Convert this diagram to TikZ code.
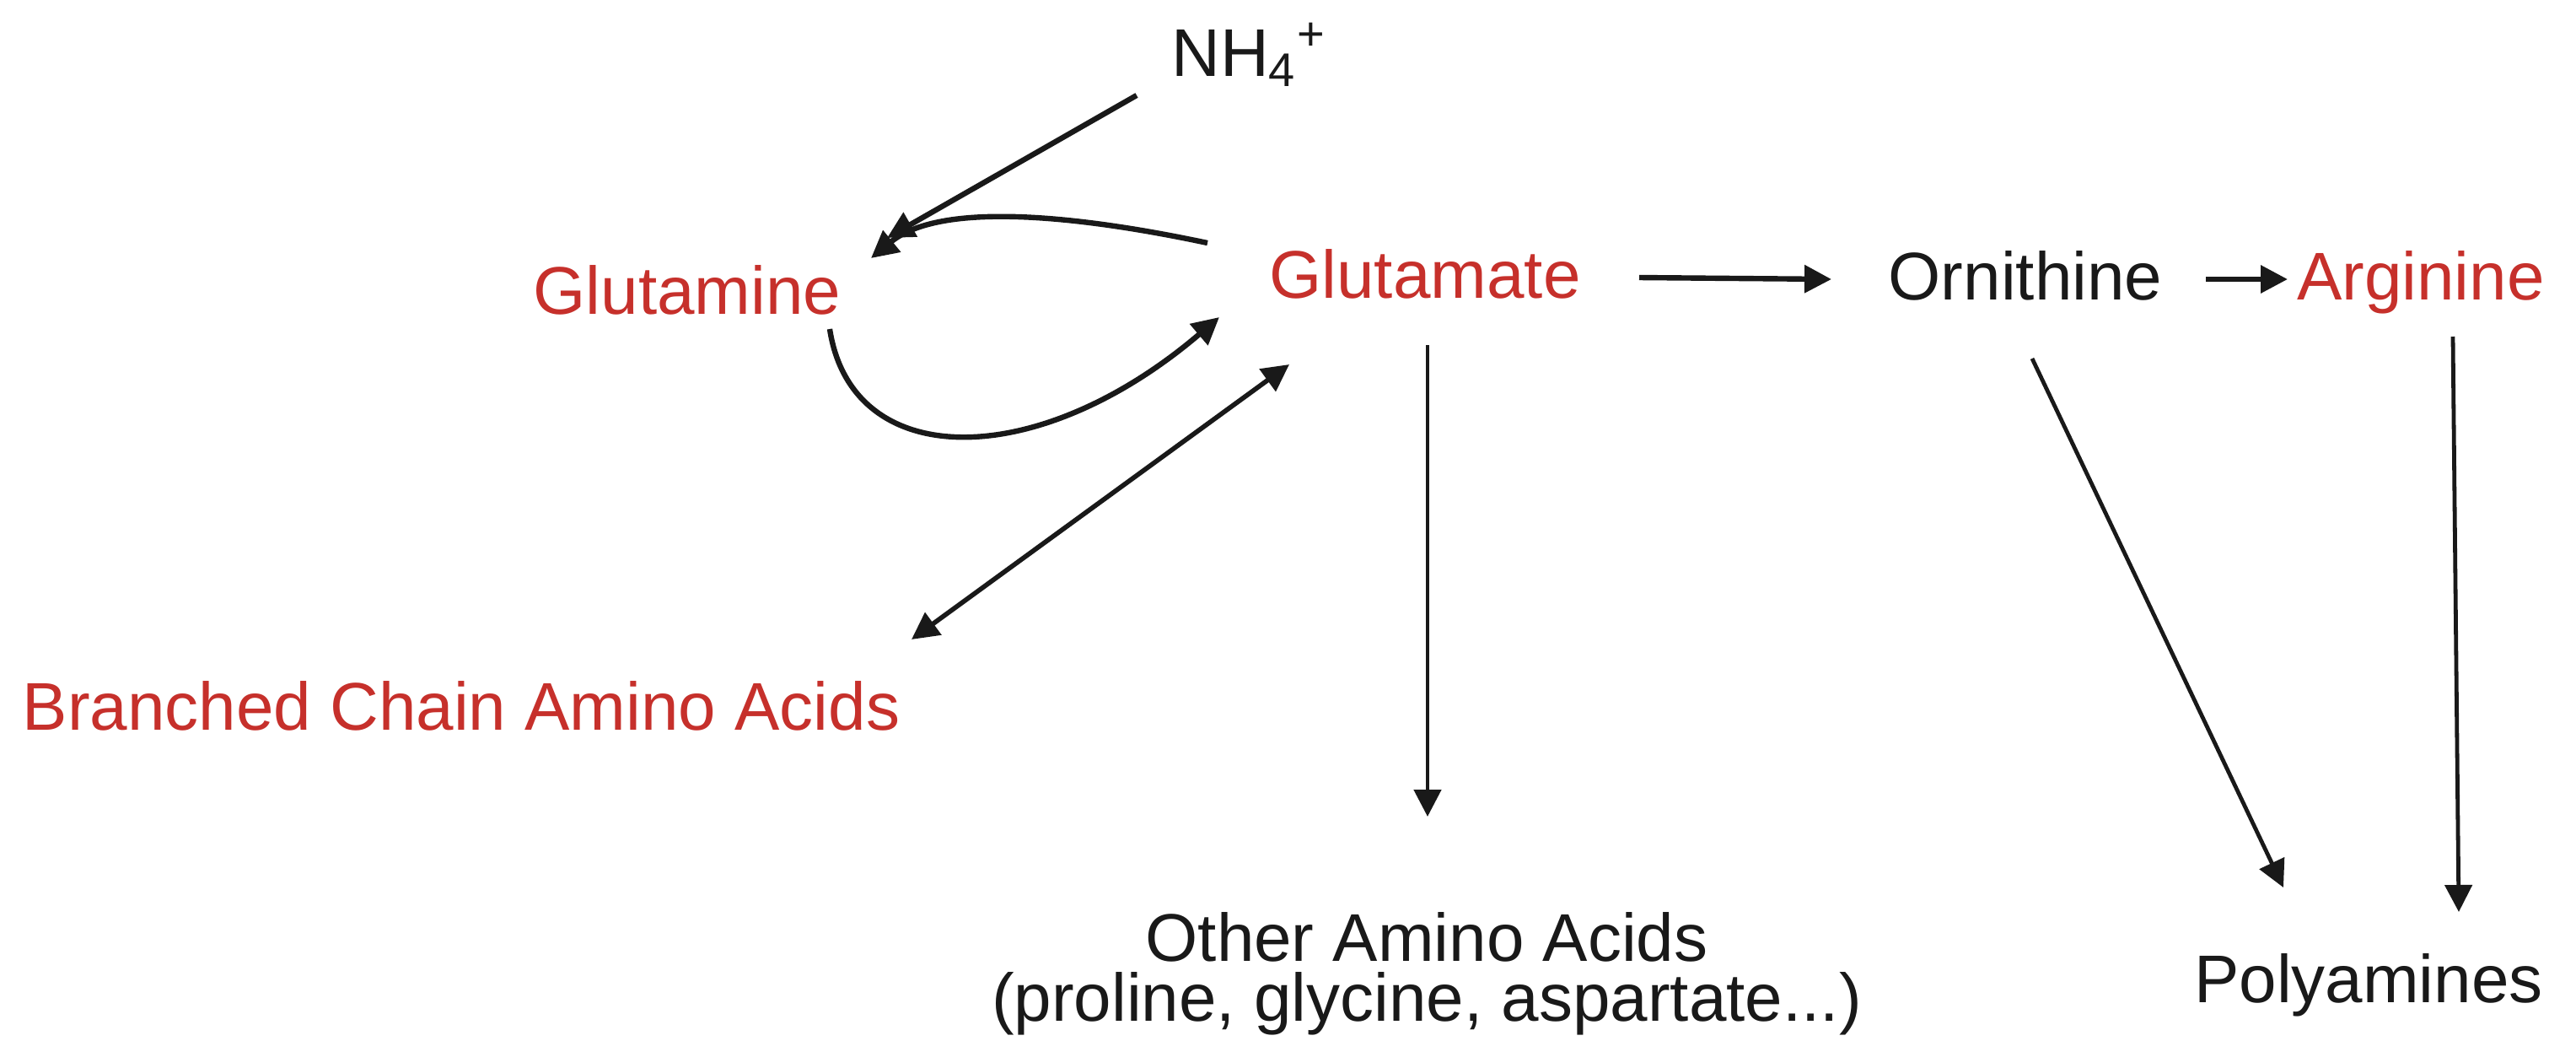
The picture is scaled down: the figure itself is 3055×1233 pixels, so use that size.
\documentclass[tikz,border=0pt]{standalone}
\usepackage{fontspec}
\setmainfont{Liberation Sans}
\usetikzlibrary{arrows.meta}
\definecolor{rd}{RGB}{198,48,43}
\definecolor{ink}{RGB}{25,25,25}
\begin{document}
\begin{tikzpicture}[x=0.25pt,y=-0.25pt,
  lbl/.style={inner sep=0pt,anchor=base,text=ink,font=\fontsize{20}{24}\selectfont},
  redlbl/.style={lbl,text=rd},
  arr/.style={draw=ink,line width=1.6pt,-{Triangle[length=8pt,width=8pt]}},
  thinarr/.style={arr,line width=1.2pt},
  dbl/.style={draw=ink,line width=1.4pt,{Triangle[length=8pt,width=8pt]}-{Triangle[length=8pt,width=8pt]}}]
\useasboundingbox (0,0) rectangle (3055,1233);
\node[lbl] (nh4) at (1481,90) {NH\textsubscript{4}\textsuperscript{+}};
\node[redlbl] (glutamine) at (815,372) {Glutamine};
\node[redlbl] (glutamate) at (1690,353) {Glutamate};
\node[lbl] (ornithine) at (2402,355) {Ornithine};
\node[redlbl] (arginine) at (2871,355) {Arginine};
\node[redlbl] (bcaa) at (547,865) {Branched Chain Amino Acids};
\node[lbl,anchor=north,align=center,font=\fontsize{20}{17.75}\selectfont] (other) at (1692,1081) {Other Amino Acids\\(proline, glycine, aspartate...)};
\node[lbl] (poly) at (2809,1188) {Polyamines};

\draw[arr] ([shift={(-133,23)}]nh4.base) -- ([shift={(237,-90)}]glutamine.base);
\draw[arr] ([shift={(-258,-65)}]glutamate.base) .. controls ([shift={(-390,-93)}]glutamate.base) and ([shift={(-570,-118)}]glutamate.base) .. ([shift={(218,-66)}]glutamine.base);
\draw[arr] ([shift={(169,18)}]glutamine.base) .. controls ([shift={(195,188)}]glutamine.base) and ([shift={(415,188)}]glutamine.base) .. ([shift={(-244,23)}]glutamate.base);
\draw[dbl] ([shift={(-161,79)}]glutamate.base) -- ([shift={(534,-107)}]bcaa.base);
\draw[thinarr] ([shift={(3,56)}]glutamate.base) -- ([shift={(1,-113)}]other.north);
\draw[arr] ([shift={(254,-24)}]glutamate.base) -- ([shift={(-230,-24)}]ornithine.base);
\draw[arr] ([shift={(214,-24)}]ornithine.base) -- ([shift={(-158,-24)}]arginine.base);
\draw[thinarr] ([shift={(8,70)}]ornithine.base) -- ([shift={(-101,-136)}]poly.base);
\draw[thinarr] ([shift={(38,44)}]arginine.base) -- ([shift={(107,-107)}]poly.base);
\end{tikzpicture}
\end{document}
